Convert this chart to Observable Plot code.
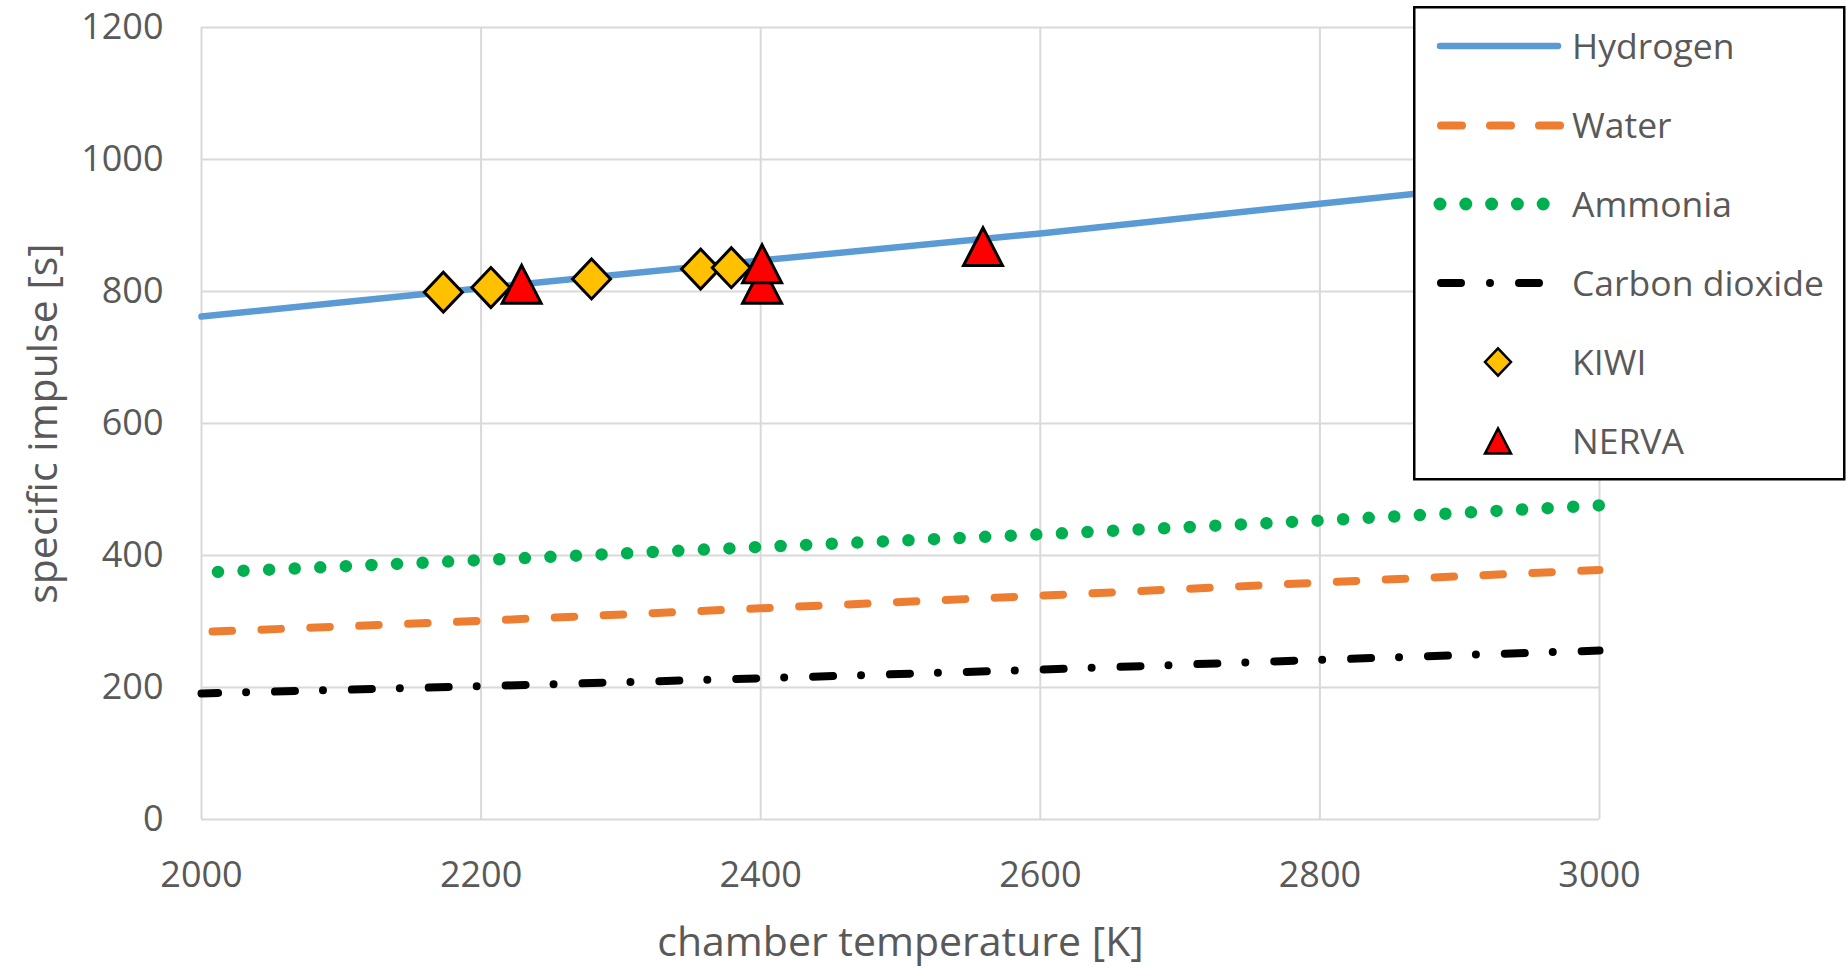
<!DOCTYPE html>
<html><head><meta charset="utf-8">
<script src="https://cdn.jsdelivr.net/npm/d3@7"></script>
<script src="https://cdn.jsdelivr.net/npm/@observablehq/plot@0.6"></script>
<style>html,body{margin:0;padding:0;background:#fff;} #chart{width:1846px;height:968px;}</style>
</head><body><div id="chart"></div>
<script>
// ---- data ----
const temperatures = [2000, 2200, 2400, 2600, 2800, 3000];
const hydrogen = [762, 805, 847, 888, 933, 977];
const water = [284, 301, 320, 339, 359, 378];
const ammonia = [374, 393, 413, 432, 453, 476];
const carbonDioxide = [191, 202, 214, 227, 242, 256];
const kiwiTemp = [2173, 2207, 2279, 2357, 2379];
const kiwiIsp = [799, 806, 819, 834, 836];
const nervaTemp = [2229, 2401, 2401, 2559];
const nervaIsp = [811, 811, 842, 868];
const xTicks = [2000, 2200, 2400, 2600, 2800, 3000];
const yTicks = [0, 200, 400, 600, 800, 1000, 1200];
const seriesNames = ["Hydrogen", "Water", "Ammonia", "Carbon dioxide", "KIWI", "NERVA"];
const xTitle = "chamber temperature [K]";
const yTitle = "specific impulse [s]";

// ---- tables ----
const rows = temperatures.map((t, i) => ({t, h: hydrogen[i], w: water[i], a: ammonia[i], c: carbonDioxide[i]}));
const kiwi = kiwiTemp.map((t, i) => ({t, isp: kiwiIsp[i]}));
const nerva = nervaTemp.map((t, i) => ({t, isp: nervaIsp[i]}));

const diamondSym = {draw(ctx, size) { const r = Math.sqrt(size / Math.PI); ctx.moveTo(0, -r * 1.05); ctx.lineTo(r, 0); ctx.lineTo(0, r * 1.05); ctx.lineTo(-r, 0); ctx.closePath(); }};
const triangleSym = {draw(ctx, size) { const r = Math.sqrt(size / Math.PI); const h = r * 0.97; ctx.moveTo(0, -h); ctx.lineTo(r, h); ctx.lineTo(-r, h); ctx.closePath(); }};

const C = {h: "#5B9BD5", w: "#ED7D31", a: "#00B050", c: "#000000", kiwi: "#FFC000", nerva: "#FF0000", text: "#595959", grid: "#d9d9d9"};
const fmt = d => `${d}`;

const svg = Plot.plot({
  width: 1846, height: 968,
  marginLeft: 201, marginRight: 247, marginTop: 27, marginBottom: 149,
  style: {fontFamily: "'Open Sans', sans-serif", background: "white", overflow: "visible"},
  x: {domain: [2000, 3000]},
  y: {domain: [0, 1200]},
  marks: [
    Plot.gridX(xTicks, {stroke: C.grid, strokeOpacity: 1, strokeWidth: 2}),
    Plot.gridY(yTicks, {stroke: C.grid, strokeOpacity: 1, strokeWidth: 2}),
    Plot.lineY(rows, {x: "t", y: "c", stroke: C.c, strokeWidth: 8, strokeDasharray: "20 28 0 28.9", strokeDashoffset: 3.4, strokeLinecap: "round"}),
    Plot.lineY(rows, {x: "t", y: "w", stroke: C.w, strokeWidth: 8, strokeDasharray: "19.5 29.43", strokeDashoffset: 37.9, strokeLinecap: "round"}),
    Plot.lineY(rows, {x: "t", y: "a", stroke: C.a, strokeWidth: 12.5, strokeDasharray: "0 25.6", strokeDashoffset: 9.1, strokeLinecap: "round"}),
    Plot.lineY(rows, {x: "t", y: "h", stroke: C.h, strokeWidth: 6.5}),
    Plot.dot(kiwi, {x: "t", y: "isp", r: 19, symbol: diamondSym, fill: C.kiwi, stroke: "black", strokeWidth: 3}),
    Plot.dot(nerva, {x: "t", y: "isp", r: 19.5, symbol: triangleSym, fill: C.nerva, stroke: "black", strokeWidth: 3}),
    Plot.axisX(xTicks, {tickSize: 0, tickPadding: 42, fontSize: 36, color: C.text, tickFormat: fmt, label: null}),
    Plot.axisY(yTicks, {tickSize: 0, tickPadding: 38, fontSize: 36, color: C.text, tickFormat: fmt, label: null}),
    Plot.text([xTitle], {frameAnchor: "bottom", text: d => d, dy: 123, lineAnchor: "middle", fontSize: 41, fill: C.text}),
    Plot.text([yTitle], {frameAnchor: "left", text: d => d, rotate: -90, dx: -158, lineAnchor: "middle", textAnchor: "middle", fontSize: 41, fill: C.text})
  ]
});
document.getElementById("chart").appendChild(svg);

// ---- legend ----
const g = d3.select(svg).append("g").attr("class", "legend").attr("text-anchor", "start");
g.append("rect").attr("x", 1414.25).attr("y", 7.25).attr("width", 430).attr("height", 472)
  .attr("fill", "white").attr("stroke", "black").attr("stroke-width", 2.5);
const rowY = [46, 125.5, 204, 283, 362, 441];
const swatchLine = (y, x1, x2, stroke, w, dash) => g.append("line").attr("x1", x1).attr("x2", x2).attr("y1", y).attr("y2", y)
  .attr("stroke", stroke).attr("stroke-width", w).attr("stroke-linecap", "round").attr("stroke-dasharray", dash);
swatchLine(rowY[0], 1440, 1558, C.h, 6.5, null);
swatchLine(rowY[1], 1441, 1560, C.w, 8, "21 28");
swatchLine(rowY[2], 1440, 1544, C.a, 13, "0 25.8");
swatchLine(rowY[3], 1441, 1539, C.c, 8, "20 29 0 29 20 10");
g.append("path").attr("transform", `translate(1498,${rowY[4]})`).attr("d", d3.symbol(diamondSym, Math.PI * 13 * 13)())
  .attr("fill", C.kiwi).attr("stroke", "black").attr("stroke-width", 2.5);
g.append("path").attr("transform", `translate(1498,${rowY[5]})`).attr("d", d3.symbol(triangleSym, Math.PI * 13 * 13)())
  .attr("fill", C.nerva).attr("stroke", "black").attr("stroke-width", 2.5);
seriesNames.forEach((name, i) => {
  g.append("text").attr("x", 1572).attr("y", rowY[i] + 12.5).attr("font-size", 35.5).attr("fill", C.text)
    .attr("text-anchor", "start").text(name);
});
</script>
</body></html>
